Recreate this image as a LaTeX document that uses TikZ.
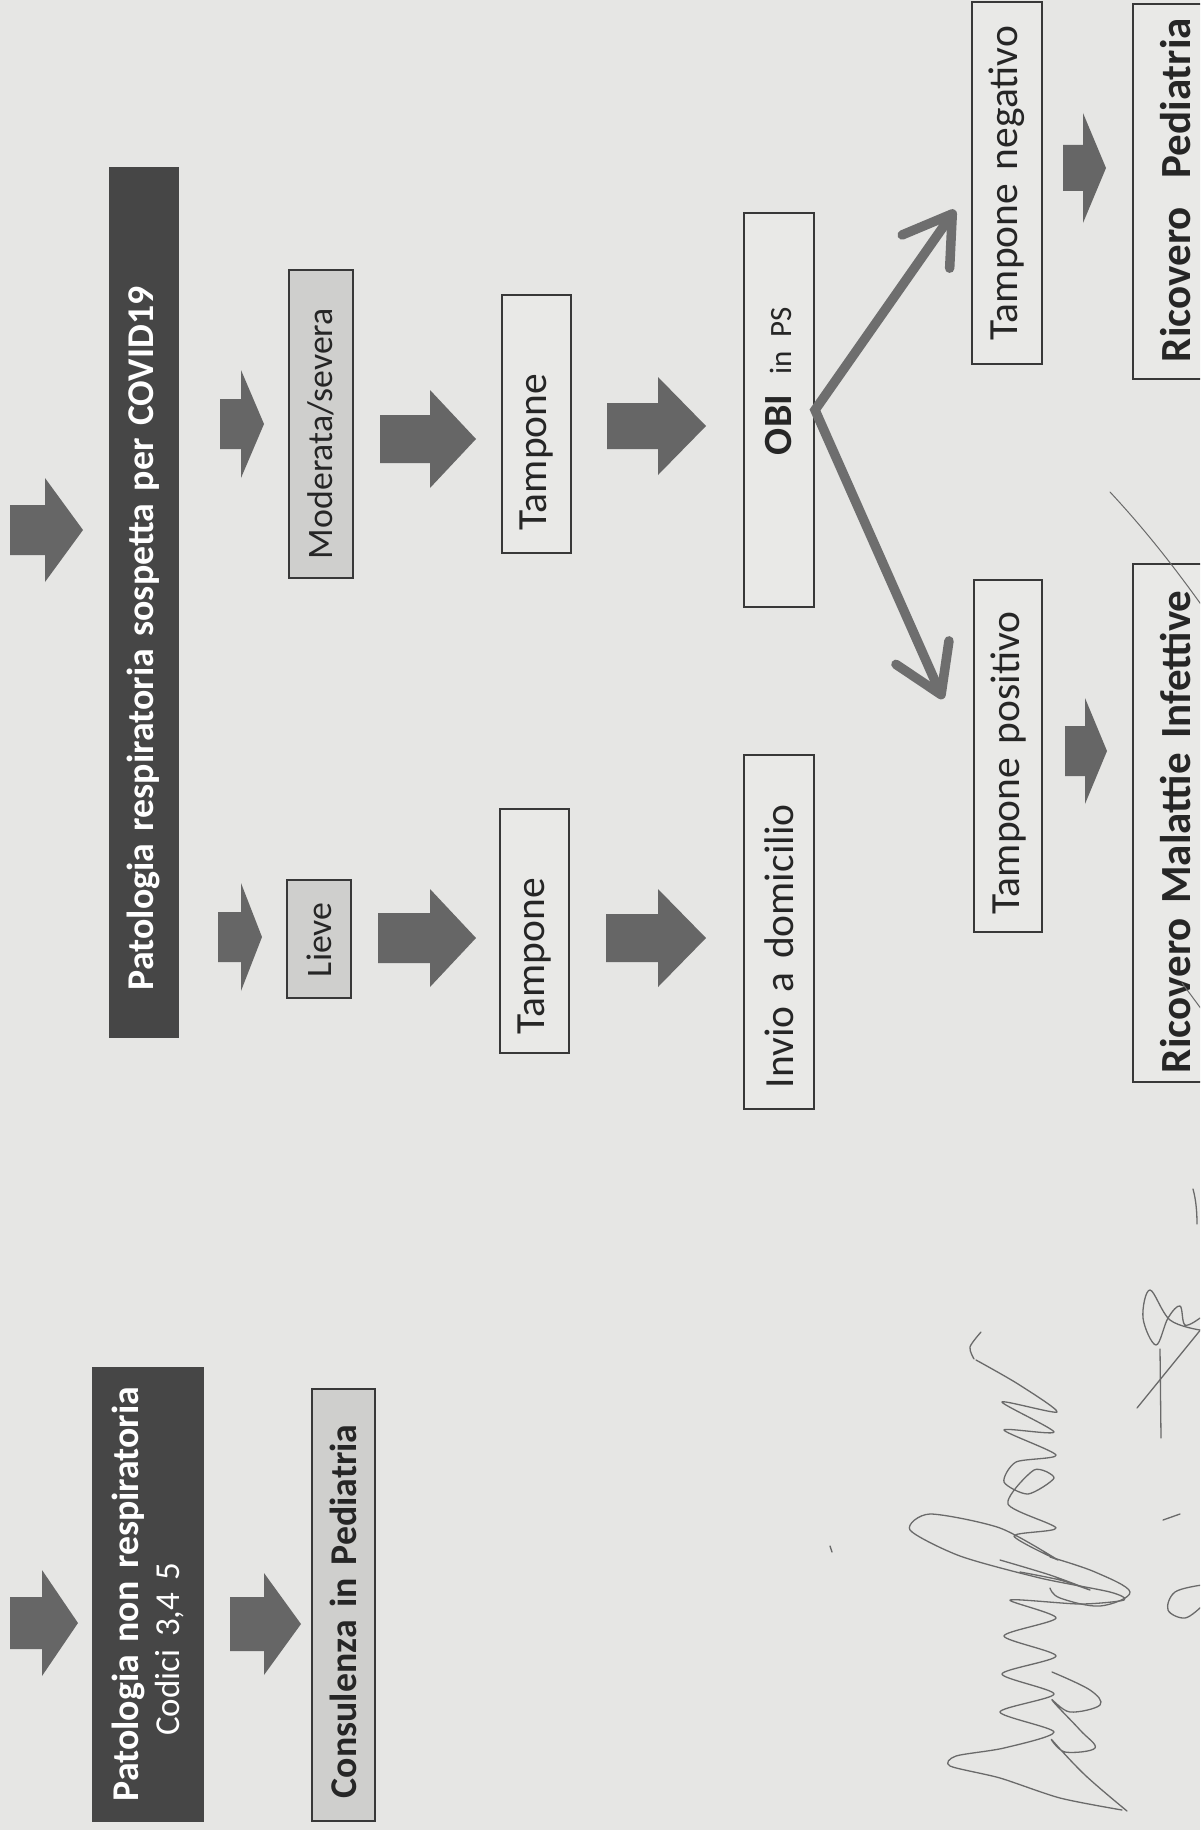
\documentclass[tikz,border=0pt]{standalone}
\usepackage{fontspec}
\setmainfont{Carlito}
\usetikzlibrary{arrows.meta}
\definecolor{paper}{HTML}{E6E6E4}
\definecolor{darkc}{HTML}{464646}
\definecolor{lightc}{HTML}{CFCFCD}
\definecolor{whitec}{HTML}{E9E9E7}
\definecolor{borderc}{HTML}{383838}
\definecolor{arrc}{HTML}{666666}
\definecolor{diagc}{HTML}{6E6E6E}
\definecolor{inkc}{HTML}{6A6A6A}
\tikzset{
  darkbox/.style={fill=darkc, draw=darkc, line width=1pt, text=white},
  greybox/.style={fill=lightc, draw=borderc, line width=2pt, text=black!85},
  whitebox/.style={fill=whitec, draw=borderc, line width=2pt, text=black!85},
  regA/.style={font=\fontsize{35.8}{40}\selectfont},
  regB/.style={font=\fontsize{41.5}{46}\selectfont},
  boldA/.style={font=\bfseries\fontsize{37.8}{42}\selectfont},
  boldB/.style={font=\bfseries\fontsize{43}{48}\selectfont},
  blockarr/.style={fill=arrc},
  diagarr/.style={draw=diagc, line width=9.5pt, line join=miter,
    {Straight Barb[length=46pt, width=58pt, line width=9.5pt, round]}-{Straight Barb[length=46pt, width=58pt, line width=9.5pt, round]}},
  ink/.style={draw=inkc, line width=1.3pt, line cap=round, line join=round}
}
% box: name, style, x1, x2, y1, y2, bottom padding, text
\newcommand{\mkbox}[8]{%
  \pgfmathsetmacro{\bxL}{#6-#5}%
  \pgfmathsetmacro{\bxH}{#4-#3}%
  \pgfmathsetmacro{\bxX}{(#3+#4)/2}%
  \pgfmathsetmacro{\bxY}{(#5+#6)/2}%
  \node[#2, rotate=90, minimum width=\bxL pt, minimum height=\bxH pt, inner sep=0pt,
        text width=\bxL pt, align=left] (#1) at (\bxX,\bxY) {\hspace*{#7pt}\mbox{#8}};%
}
% block arrow pointing right: x0, x1(tip), yc, shaft half, head start x, head half
\newcommand{\barr}[6]{%
  \fill[blockarr] (#1,#3-#4) -- (#5,#3-#4) -- (#5,#3-#6) -- (#2,#3) -- (#5,#3+#6)
    -- (#5,#3+#4) -- (#1,#3+#4) -- cycle;}
\begin{document}
\begin{tikzpicture}[x=1pt,y=-1pt]
\useasboundingbox (0,0) rectangle (1200,1830);
\clip (0,0) rectangle (1200,1830);
\fill[paper] (0,0) rectangle (1200,1830);

% ---- boxes ----
\mkbox{covid}{darkbox,boldA}{109}{178}{168}{1037}{47}{Patologia respiratoria sospetta per COVID19}
\mkbox{moder}{greybox,regA}{289}{353}{270}{578}{19}{Moderata/severa}
\mkbox{lieve}{greybox,regA}{287}{351}{880}{998}{21}{Lieve}
\mkbox{tampr}{whitebox,regB}{502}{571}{295}{553}{23}{Tampone}
\mkbox{tampl}{whitebox,regB}{500}{569}{809}{1053}{19}{Tampone}
\mkbox{obi}{whitebox,regB}{744}{814}{213}{607}{152}{{\bfseries\fontsize{40}{44}\selectfont OBI}\hspace{20pt}{\fontsize{31}{34}\selectfont in PS}}
\mkbox{invio}{whitebox,regB}{744}{814}{755}{1109}{21}{Invio a domicilio}
\mkbox{tneg}{whitebox,regB}{972}{1042}{2}{364}{24}{Tampone negativo}
\mkbox{tpos}{whitebox,regB}{974}{1042}{580}{932}{18}{Tampone positivo}
\mkbox{ricped}{whitebox,boldB}{1133}{1219}{4}{379}{17}{Ricovero\ \ Pediatria}
\mkbox{ricmal}{whitebox,boldB}{1133}{1219}{564}{1082}{9}{Ricovero Malattie Infettive}
\mkbox{consul}{greybox,boldA}{312}{375}{1389}{1821}{23}{Consulenza in Pediatria}
\node[darkbox, rotate=90, minimum width=454pt, minimum height=111pt, inner sep=0pt,
      text width=454pt, align=center, font=\fontsize{37.8}{41}\selectfont] (nonresp) at (147.5,1594)
  {{\bfseries Patologia non respiratoria}\\{\fontsize{35}{41}\selectfont Codici 3,4 5\hspace*{110pt}}};

% ---- block arrows ----
\barr{10}{83}{530}{25}{45}{52}
\barr{10}{78}{1623}{26}{42}{53}
\barr{230}{301}{1624}{27}{264}{51}
\barr{220}{264}{424}{25}{241}{54}
\barr{218}{262}{937}{25}{241}{54}
\barr{380}{476}{439}{24}{430}{49}
\barr{378}{476}{938}{25}{430}{49}
\barr{607}{706}{426}{23}{658}{49}
\barr{606}{706}{938}{24}{658}{49}
\barr{1063}{1106}{168}{23}{1083}{55}
\barr{1065}{1107}{751}{25}{1085}{53}

% ---- diagonal arrows from OBI ----
\coordinate (tipneg) at (955,210);
\coordinate (tippos) at (943,699);
\draw[diagarr] (tipneg) -- (obi.south) -- (tippos);

% ---- pen strokes and signatures ----
\draw[ink, line width=1pt] (1110,492) .. controls (1150,535) and (1180,575) .. (1205,610);
\draw[ink, line width=1pt] (1182,983) -- (1202,1010);
% signature 1
\draw[ink] plot[smooth, tension=0.5] coordinates {(981,1332) (970,1347) (974,1359)};
\draw[ink] plot[smooth, tension=0.45] coordinates {(976,1360) (1018,1384) (1057,1412)
  (1002,1402) (1054,1432) (1004,1430) (1056,1455) (1016,1462) (1004,1482) (1028,1494) (1054,1478)
  (1034,1470) (1008,1504) (1056,1528) (1014,1536) (1058,1560)
  (1000,1528) (930,1514) (910,1530) (960,1556) (1040,1578) (1110,1592) (1124,1600) (1080,1604)
  (1010,1600) (1056,1618) (1004,1636) (1056,1656) (1002,1674) (1054,1694) (1000,1712)
  (1054,1732) (1004,1748) (956,1756) (950,1766) (1000,1778) (1060,1798) (1122,1810)};
\draw[ink] plot[smooth, tension=0.5] coordinates {(1000,1560) (1050,1575) (1090,1590) (1060,1580) (1020,1572)};
\draw[ink] (830,1546) -- (832,1552);
% signature 2
\draw[ink] (1193,1189) .. controls (1196,1200) and (1197,1212) .. (1197,1224);
\draw[ink] plot[smooth, tension=0.6] coordinates {(1200,1330) (1170,1320) (1150,1290)
  (1143,1318) (1156,1345) (1168,1318) (1180,1306) (1185,1325) (1200,1318)};
\draw[ink] (1137,1408) -- (1202,1328);
\draw[ink] (1160,1349) -- (1161,1438);
\draw[ink] (1163,1520) -- (1180,1514);
\draw[ink] plot[smooth, tension=0.6] coordinates {(1202,1585) (1175,1592) (1168,1610) (1185,1618) (1202,1606)};
\draw[ink] plot[smooth, tension=0.6] coordinates {(1050,1557) (1095,1572) (1130,1592) (1100,1606) (1060,1598) (1050,1588)};
\draw[ink] plot[smooth, tension=0.6] coordinates {(1052,1672) (1090,1690) (1100,1705) (1070,1712)
  (1052,1700) (1080,1730) (1095,1748) (1065,1752) (1052,1740) (1085,1775) (1127,1811)};
\end{tikzpicture}
\end{document}
